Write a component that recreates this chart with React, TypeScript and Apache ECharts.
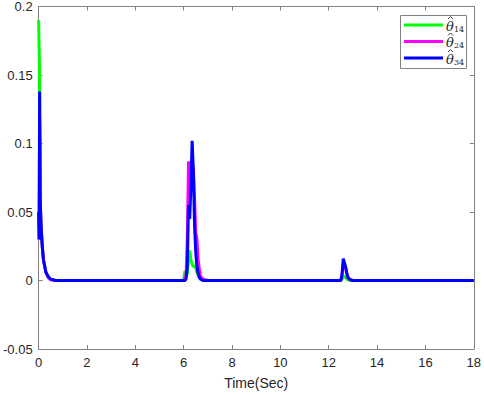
import React, { useEffect, useRef } from "react";
import * as echarts from "echarts";

const times = [0, 0.02, 0.04, 0.06, 0.08, 0.1, 0.15, 0.2, 0.3, 0.4, 0.5, 0.7, 1.0,
  6.0, 6.05, 6.1, 6.15, 6.2, 6.25, 6.3, 6.35, 6.4, 6.45, 6.5, 6.55, 6.6, 6.65, 6.7, 6.8, 7.0,
  12.5, 12.55, 12.6, 12.65, 12.7, 12.75, 12.8, 12.9, 13.0, 13.2, 18];

const theta14 = [0.19, 0.19, 0.15, 0.07, 0.05, 0.04, 0.025, 0.015, 0.006, 0.002, 0.001, 0, 0,
  0, 0.007, 0.003, 0.005, 0.015, 0.022, 0.015, 0.012, 0.01, 0.011, 0.009, 0.006, 0.004, 0.002, 0.001, 0, 0,
  0, 0.001, 0.003, 0.003, 0.002, 0.001, 0.0005, 0, 0, 0, 0];

const theta24 = [0.05, 0.03, 0.12, 0.1, 0.05, 0.04, 0.025, 0.015, 0.006, 0.002, 0.0005, 0, 0,
  0, 0.002, 0.004, 0.03, 0.087, 0.06, 0.07, 0.085, 0.082, 0.06, 0.035, 0.03, 0.015, 0.008, 0.003, 0.001, 0,
  0, 0.005, 0.012, 0.011, 0.009, 0.005, 0.002, 0.0005, 0, 0, 0];

const theta34 = [0.05, 0.03, 0.138, 0.06, 0.05, 0.04, 0.025, 0.015, 0.006, 0.003, 0.001, 0, 0,
  0, 0, 0.001, 0.01, 0.055, 0.045, 0.07, 0.102, 0.08, 0.04, 0.02, 0.01, 0.005, 0.002, 0.001, 0, 0,
  0, 0.004, 0.016, 0.013, 0.01, 0.005, 0.002, 0.0005, 0, 0, 0];

const seriesSubs = ["14", "24", "34"];
const seriesColors = ["#00ff00", "#ff00ff", "#0000ff"];
const seriesValues = [theta14, theta24, theta34];

const FONT = "'Liberation Sans', Arial, sans-serif";
const SERIF = "'DejaVu Serif', 'Liberation Serif', serif";
const AXIS = "#808080";
const TEXT = "#262626";

export default function App() {
  const ref = useRef<HTMLDivElement>(null);
  useEffect(() => {
    const chart = echarts.init(ref.current!, null, { renderer: "svg" });
    const axisCommon = {
      axisLine: { show: true, onZero: false, lineStyle: { color: AXIS, width: 1 } },
      axisTick: { show: true, inside: true, length: 4, lineStyle: { color: AXIS } },
      splitLine: { show: false },
    };

    const legendX = 400;
    const legendY = 15;
    const rowGap = 16.5;
    const legendChildren: any[] = [
      {
        type: "rect",
        shape: { x: legendX + 0.5, y: legendY + 0.5, width: 66, height: 53 },
        style: { fill: "#ffffff", stroke: AXIS, lineWidth: 1 },
        z: 100,
      },
    ];
    seriesSubs.forEach((sub, i) => {
      const cy = legendY + 10 + i * rowGap;
      const tx = legendX + 46;
      legendChildren.push(
        {
          type: "line",
          shape: { x1: legendX + 4, y1: cy, x2: legendX + 43, y2: cy },
          style: { stroke: seriesColors[i], lineWidth: 3 },
          z: 101,
        },
        {
          type: "text",
          x: tx,
          y: cy + 1,
          style: {
            text: "θ",
            font: `italic 13px ${SERIF}`,
            fill: TEXT,
            verticalAlign: "middle",
            align: "left",
          },
          z: 101,
        },
        {
          type: "polyline",
          shape: { points: [[tx + 2, cy - 6], [tx + 4.5, cy - 8.5], [tx + 7, cy - 6]] },
          style: { stroke: TEXT, lineWidth: 0.9, fill: null },
          z: 101,
        },
        {
          type: "text",
          x: tx + 8,
          y: cy + 4,
          style: {
            text: sub,
            font: `8px ${SERIF}`,
            fill: TEXT,
            verticalAlign: "middle",
            align: "left",
          },
          z: 101,
        }
      );
    });

    chart.setOption({
      animation: false,
      backgroundColor: "#ffffff",
      textStyle: { fontFamily: FONT },
      grid: { left: 36, right: 7, top: 4, bottom: 42, containLabel: false },
      xAxis: [
        {
          type: "value",
          min: 0,
          max: 18,
          interval: 2,
          position: "bottom",
          ...axisCommon,
          axisLabel: { color: TEXT, fontSize: 13, fontFamily: FONT, margin: 7 },
          name: "Time(Sec)",
          nameLocation: "middle",
          nameGap: 27,
          nameTextStyle: { color: TEXT, fontSize: 14, fontFamily: FONT },
        },
        {
          type: "value",
          min: 0,
          max: 18,
          interval: 2,
          position: "top",
          ...axisCommon,
          axisLabel: { show: false },
        },
      ],
      yAxis: [
        {
          type: "value",
          min: -0.05,
          max: 0.2,
          interval: 0.05,
          position: "left",
          ...axisCommon,
          axisLabel: {
            color: TEXT,
            fontSize: 13,
            fontFamily: FONT,
            margin: 6,
            formatter: (v: number) => String(Math.round(v * 100) / 100),
          },
        },
        {
          type: "value",
          min: -0.05,
          max: 0.2,
          interval: 0.05,
          position: "right",
          ...axisCommon,
          axisLabel: { show: false },
        },
      ],
      graphic: [{ type: "group", children: legendChildren }],
      series: seriesSubs.map((n, i) => ({
        name: "θ" + n,
        type: "line",
        xAxisIndex: 0,
        yAxisIndex: 0,
        showSymbol: false,
        symbol: "none",
        color: seriesColors[i],
        lineStyle: { color: seriesColors[i], width: 3 },
        data: times.map((t, j) => [t, seriesValues[i][j]]),
      })),
    });
    return () => chart.dispose();
  }, []);
  return <div ref={ref} style={{ width: 484, height: 395, position: "absolute", left: 0, top: 0 }} />;
}
